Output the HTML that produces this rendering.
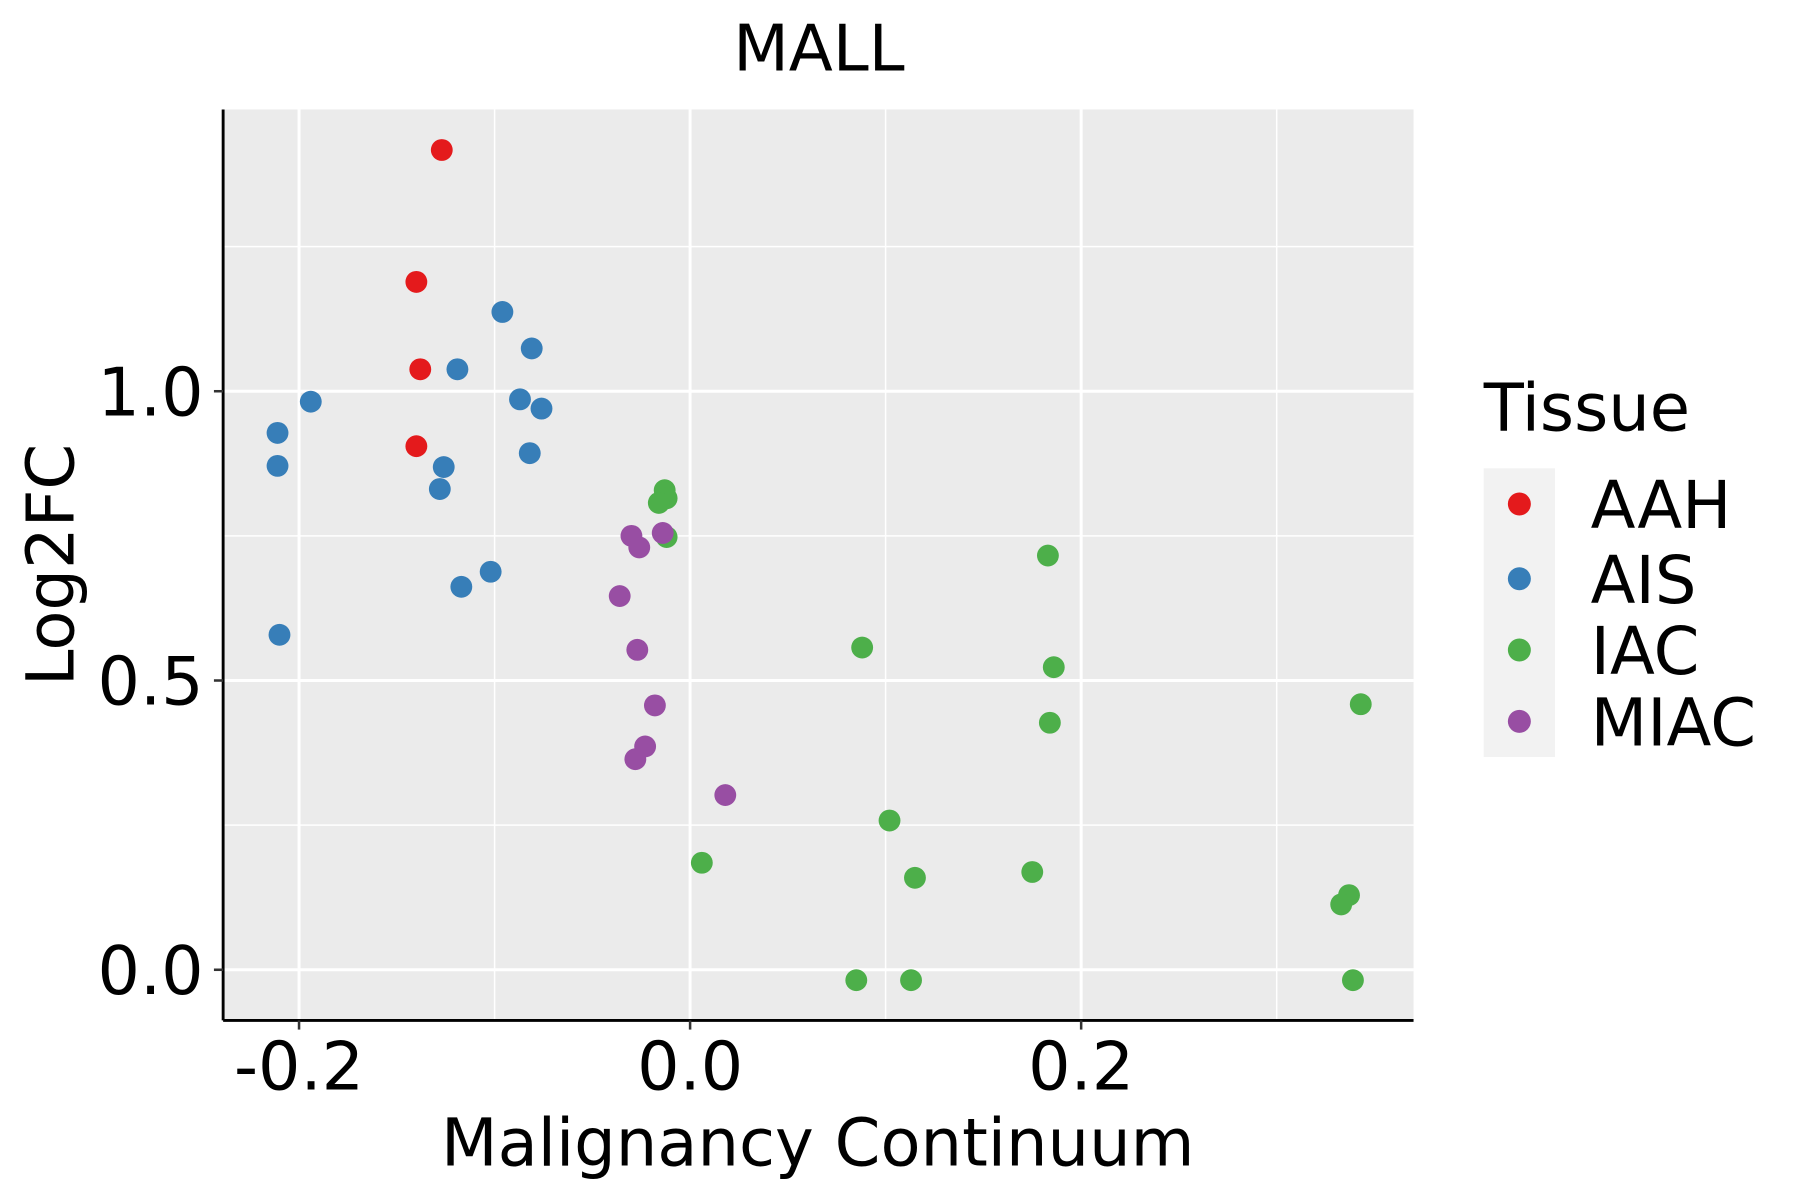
<!DOCTYPE html>
<html><head><meta charset="utf-8"><style>
html,body{margin:0;padding:0;background:#fff;}
svg{display:block;font-family:"DejaVu Sans","Liberation Sans",sans-serif;}
</style></head><body>
<svg id="chart" width="1800" height="1200" viewBox="0 0 1565 1043" xmlns="http://www.w3.org/2000/svg">
<rect width="1565" height="1043" fill="#fff"/>
<text x="712" y="61" font-size="56" text-anchor="middle">MALL</text>
<rect x="194" y="95" width="1035" height="792" fill="#ebebeb"/>
<g id="grid"></g>
<g id="points"></g>
<line x1="194" y1="887" x2="1229" y2="887" stroke="#000" stroke-width="2.5"/>
<line x1="194" y1="95" x2="194" y2="887" stroke="#000" stroke-width="2.5"/>
<g id="ticks"></g>
<text x="711" y="1013" font-size="57" text-anchor="middle">Malignancy Continuum</text>
<text transform="translate(64,491) rotate(-90)" font-size="57" text-anchor="middle">Log2FC</text>
<g>
<text x="1290" y="374" font-size="57">Tissue</text>
<rect x="1290" y="407" width="62" height="251" fill="#f2f2f2"/>
<g id="legend-items"></g>
</g>
</svg>
<script>
const categories = ["AAH","AIS","IAC","MIAC"];
const colors = ["#e41a1c","#377eb8","#4daf4a","#984ea3"];
const xTicks = [-0.2, 0.0, 0.2];
const xTickLabels = ["-0.2","0.0","0.2"];
const yTicks = [0.0, 0.5, 1.0];
const yTickLabels = ["0.0","0.5","1.0"];
const aahX = [-0.127,-0.140,-0.138,-0.140];
const aahY = [1.417,1.189,1.038,0.905];
const aisX = [-0.096,-0.081,-0.119,-0.194,-0.087,-0.076,-0.211,-0.082,-0.126,-0.211,-0.128,-0.102,-0.117,-0.210];
const aisY = [1.137,1.074,1.038,0.982,0.986,0.970,0.928,0.893,0.869,0.871,0.831,0.688,0.662,0.579];
const iacX = [-0.013,-0.012,-0.016,-0.012,0.183,0.088,0.186,0.343,0.184,0.102,0.006,0.115,0.175,0.337,0.333,0.085,0.113,0.339];
const iacY = [0.829,0.815,0.807,0.748,0.716,0.557,0.523,0.459,0.427,0.258,0.185,0.159,0.169,0.129,0.113,-0.018,-0.018,-0.018];
const miacX = [-0.030,-0.014,-0.026,-0.036,-0.027,-0.018,-0.023,-0.028,0.018];
const miacY = [0.750,0.755,0.730,0.646,0.553,0.457,0.386,0.364,0.302];

const NS = "http://www.w3.org/2000/svg";
function sx(v){ return 600 + v*1700; }
function sy(v){ return 843 - v*503; }
function mk(tag, attrs, parent){ const e=document.createElementNS(NS,tag); for(const k in attrs) e.setAttribute(k,attrs[k]); parent.appendChild(e); return e; }

const grid = document.getElementById("grid");
[-0.1,0.1,0.3].forEach(v=>{ const l=mk("line",{x1:sx(v),x2:sx(v),y1:95,y2:887,stroke:"#fff","stroke-width":1.3},grid);

 });
[0.25,0.75,1.25].forEach(v=>{ const l=mk("line",{x1:194,x2:1229,y1:sy(v),y2:sy(v),stroke:"#fff","stroke-width":1.3},grid);

 });
xTicks.forEach(v=>{ const l=mk("line",{x1:sx(v),x2:sx(v),y1:95,y2:887,stroke:"#fff","stroke-width":2.6},grid);

 });
yTicks.forEach(v=>{ const l=mk("line",{x1:194,x2:1229,y1:sy(v),y2:sy(v),stroke:"#fff","stroke-width":2.6},grid);

 });

const ticks = document.getElementById("ticks");
xTicks.forEach((v,i)=>{
  const t=mk("line",{x1:sx(v),x2:sx(v),y1:887,y2:895,stroke:"#333","stroke-width":2.2},ticks);
  
  
  const tx=mk("text",{x:sx(v),y:947,"font-size":58,"text-anchor":"middle",fill:"#000"},ticks);
  tx.textContent=xTickLabels[i];
  
  
});
yTicks.forEach((v,i)=>{
  const t=mk("line",{x1:186,x2:194,y1:sy(v),y2:sy(v),stroke:"#333","stroke-width":2.2},ticks);
  
  
  const tx=mk("text",{x:177,y:sy(v)+21,"font-size":58,"text-anchor":"end",fill:"#000"},ticks);
  tx.textContent=yTickLabels[i];
  
  
});

const pts = document.getElementById("points");
const series = [[aahX,aahY],[aisX,aisY],[iacX,iacY],[miacX,miacY]];
series.forEach((s,si)=>{
  s[0].forEach((xv,i)=>{
    const c=mk("circle",{cx:sx(xv),cy:sy(s[1][i]),r:9.5,fill:colors[si]},pts);
    
    
  });
});

const leg = document.getElementById("legend-items");
const legY = [438,503,565,627];
categories.forEach((c,i)=>{
  const d=mk("circle",{cx:1321,cy:legY[i],r:10,fill:colors[i]},leg);
  
  
  const t=mk("text",{x:1383,y:legY[i]+21,"font-size":57,fill:"#000"},leg);
  t.textContent=c;
  
  
});
</script>
</body></html>
